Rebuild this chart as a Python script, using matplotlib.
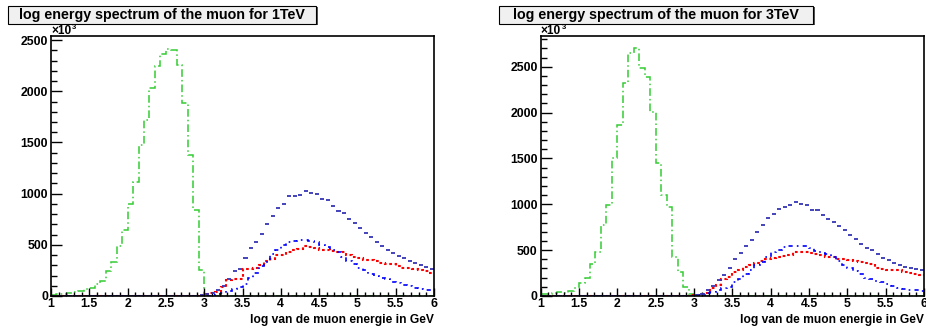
import numpy as np
import matplotlib
matplotlib.use("Agg")
import matplotlib.pyplot as plt
from matplotlib.patches import Rectangle
from matplotlib.ticker import MultipleLocator, FuncFormatter

plt.rcParams['font.family'] = ['Liberation Sans', 'DejaVu Sans']
plt.rcParams['font.weight'] = 'bold'

# ---------------- data (values in units of 10^3) ----------------
x_lo, x_hi, n_bins = 1.0, 6.0, 70

titles = ["log energy spectrum of the muon for 1TeV",
          "log energy spectrum of the muon for 3TeV"]
x_label = "log van de muon energie in GeV"
y_limits = [2540, 2835]

green_1tev = [10, 15, 20, 30, 35, 50, 65, 80, 120, 150,
              245, 330, 490, 640, 900, 1115, 1475, 1720, 2030, 2245,
              2360, 2415, 2400, 2260, 1885, 1380, 840, 250, 0, 0,
              0, 0, 0, 0, 0, 0, 0, 0, 0, 0,
              0, 0, 0, 0, 0, 0, 0, 0, 0, 0,
              0, 0, 0, 0, 0, 0, 0, 0, 0, 0,
              0, 0, 0, 0, 0, 0, 0, 0, 0, 0]
total_1tev = [0, 0, 0, 0, 0, 0, 0, 0, 0, 0,
              0, 0, 0, 0, 0, 0, 0, 0, 0, 0,
              0, 0, 0, 0, 0, 0, 0, 7, 15, 25,
              56, 102, 164, 240, 262, 370, 470, 523, 608, 700,
              780, 855, 895, 978, 980, 990, 1030, 1010, 994, 945,
              933, 882, 834, 807, 754, 713, 668, 618, 575, 525,
              490, 450, 420, 390, 370, 343, 320, 300, 285, 268]
red_1tev = [0, 0, 0, 0, 0, 0, 0, 0, 0, 0,
            0, 0, 0, 0, 0, 0, 0, 0, 0, 0,
            0, 0, 0, 0, 0, 0, 0, 10, 15, 25,
            40, 88, 160, 165, 170, 265, 268, 275, 300, 340,
            366, 399, 400, 432, 445, 462, 487, 482, 465, 450,
            448, 441, 432, 428, 405, 385, 370, 352, 350, 340,
            325, 315, 308, 290, 278, 272, 262, 250, 242, 228]
blue_1tev = [0, 0, 0, 0, 0, 0, 0, 0, 0, 0,
             0, 0, 0, 0, 0, 0, 0, 0, 0, 0,
             0, 0, 0, 0, 0, 0, 0, 2, 4, 10,
             20, 33, 46, 69, 88, 121, 175, 225, 291, 334,
             415, 448, 494, 530, 540, 546, 546, 538, 532, 497,
             480, 448, 432, 380, 345, 310, 275, 255, 215, 195,
             180, 165, 140, 131, 105, 95, 80, 70, 62, 55]

green_3tev = [18, 25, 30, 40, 35, 55, 90, 145, 200, 350,
              480, 775, 990, 1500, 1863, 2318, 2653, 2700, 2490, 2390,
              2009, 1445, 1100, 972, 425, 262, 100, 25, 0, 0,
              0, 0, 0, 0, 0, 0, 0, 0, 0, 0,
              0, 0, 0, 0, 0, 0, 0, 0, 0, 0,
              0, 0, 0, 0, 0, 0, 0, 0, 0, 0,
              0, 0, 0, 0, 0, 0, 0, 0, 0, 0]
total_3tev = [0, 0, 0, 0, 0, 0, 0, 0, 0, 0,
              0, 0, 0, 0, 0, 0, 0, 0, 0, 0,
              0, 0, 0, 0, 0, 0, 0, 5, 12, 26,
              62, 106, 171, 230, 300, 400, 470, 540, 610, 700,
              779, 850, 899, 950, 972, 997, 1028, 1008, 990, 943,
              935, 885, 840, 808, 761, 717, 665, 620, 572, 528,
              499, 455, 419, 390, 360, 340, 320, 305, 290, 280]
red_3tev = [0, 0, 0, 0, 0, 0, 0, 0, 0, 0,
            0, 0, 0, 0, 0, 0, 0, 0, 0, 0,
            0, 0, 0, 0, 0, 0, 0, 8, 15, 20,
            35, 90, 125, 180, 210, 265, 285, 320, 340, 365,
            385, 405, 412, 430, 440, 450, 480, 482, 478, 465,
            458, 450, 430, 422, 408, 405, 390, 385, 370, 362,
            345, 310, 295, 285, 282, 280, 260, 250, 235, 228]
blue_3tev = [0, 0, 0, 0, 0, 0, 0, 0, 0, 0,
             0, 0, 0, 0, 0, 0, 0, 0, 0, 0,
             0, 0, 0, 0, 0, 0, 0, 3, 8, 15,
             30, 45, 62, 91, 98, 150, 190, 240, 280, 335,
             375, 426, 475, 505, 530, 543, 546, 545, 540, 520,
             495, 470, 455, 426, 385, 335, 310, 270, 235, 200,
             180, 165, 150, 130, 108, 92, 80, 70, 62, 55]

panels = [
    dict(green=green_1tev, total=total_1tev, red=red_1tev, blue=blue_1tev),
    dict(green=green_3tev, total=total_3tev, red=red_3tev, blue=blue_3tev),
]

# ---------------- figure ----------------
W, H = 926, 327
fig = plt.figure(figsize=(W / 100, H / 100), dpi=100)
renderer = fig.canvas.get_renderer()

def fx(px):
    return px / W

def fy(py):
    return 1 - py / H

edges = np.linspace(x_lo, x_hi, n_bins + 1)
bw = edges[1] - edges[0]
axes_px = [(51, 434), (540.7, 924)]
top_px, bot_px = 36, 296
title_boxes = [(8, 316), (499, 813)]

for i, p in enumerate(panels):
    l, r = axes_px[i]
    ax = fig.add_axes([fx(l), fy(bot_px), (r - l) / W, (bot_px - top_px) / H])
    ax.stairs(p['green'], edges, color='#33cc33', lw=1.1, ls=(0, (5, 2, 1, 2)), baseline=None)
    # total: dashed histogram -> one short dash per bin
    ax.hlines(p['total'], edges[:-1] + 0.18 * bw, edges[1:] - 0.08 * bw,
              color='#3535b5', lw=1.3)
    ax.stairs(p['red'], edges, color='#ff0000', lw=1.5, ls=(0, (1.3, 1.3)), baseline=None)
    ax.stairs(p['blue'], edges, color='#0000ff', lw=1.2, ls=(0, (2.5, 2.5, 1, 2.5)), baseline=None)
    ax.set_xlim(x_lo, x_hi)
    ax.set_ylim(0, y_limits[i])
    ax.xaxis.set_major_locator(MultipleLocator(0.5))
    ax.xaxis.set_minor_locator(MultipleLocator(0.1))
    ax.yaxis.set_major_locator(MultipleLocator(500))
    ax.yaxis.set_minor_locator(MultipleLocator(100))
    fmt = FuncFormatter(lambda v, pos: f"{v:g}")
    ax.xaxis.set_major_formatter(fmt)
    ax.yaxis.set_major_formatter(fmt)
    ax.tick_params(which='both', direction='in', top=False, right=False,
                   labelsize=8.8, width=1.0, color='black')
    ax.tick_params(axis='x', which='major', length=5.5, pad=1.5)
    ax.tick_params(axis='x', which='minor', length=3)
    ax.tick_params(axis='y', which='major', length=8, pad=2.2)
    ax.tick_params(axis='y', which='minor', length=4)
    for lab in ax.get_xticklabels() + ax.get_yticklabels():
        lab.set_fontweight('bold')
    for s in ax.spines.values():
        s.set_linewidth(1.2)
        s.set_color('black')

    # x axis label, fitted to the reference width
    t = fig.text(fx(r), fy(320), x_label, ha='right', va='center', fontsize=9, fontweight='bold')
    w = t.get_window_extent(renderer).width
    t.set_fontsize(9 * 182 / w)

    # x10^3 multiplier
    t1 = fig.text(fx(l), fy(31), "\u00d710", ha='left', va='center', fontsize=8.6, fontweight='bold')
    w1 = t1.get_window_extent(renderer).width
    fig.text(fx(l + w1 + 0.5), fy(27.5), "3", ha='left', va='center', fontsize=5.5, fontweight='bold')

    # title box
    bl, br = title_boxes[i]
    btop, bbot = 6, 23.5
    fig.patches.append(Rectangle((fx(bl + 1.5), fy(bbot + 1.5)), (br - bl) / W, (bbot - btop) / H,
                                 transform=fig.transFigure, facecolor='#555555', edgecolor='none', zorder=1))
    fig.patches.append(Rectangle((fx(bl), fy(bbot)), (br - bl) / W, (bbot - btop) / H,
                                 transform=fig.transFigure, facecolor='#f0f0f0', edgecolor='black',
                                 lw=0.8, zorder=2))
    tt = fig.text(fx((bl + br) / 2), fy((btop + bbot) / 2 + 0.5), titles[i], ha='center', va='center',
                  fontsize=10, fontweight='bold', zorder=3)
    w = tt.get_window_extent(renderer).width
    tt.set_fontsize(10 * 286 / w)

fig.savefig("out.png", dpi=100)
